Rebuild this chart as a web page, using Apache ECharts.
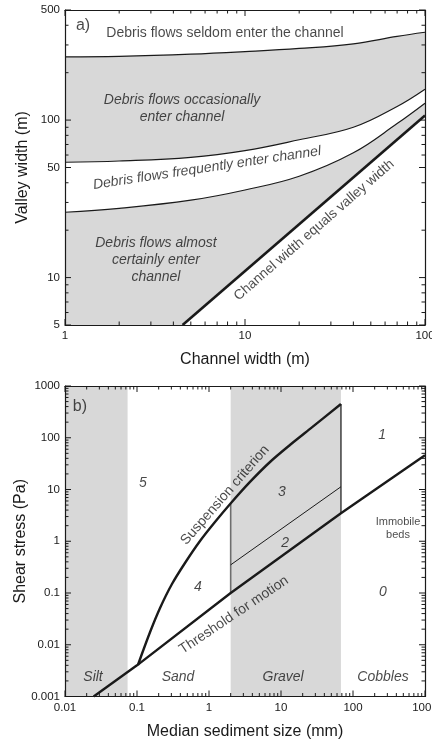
<!DOCTYPE html>
<html><head><meta charset="utf-8">
<script src="https://cdn.jsdelivr.net/npm/echarts@6/dist/echarts.min.js"></script>
<style>html,body{margin:0;padding:0;background:#fff}#c{width:432px;height:740px}</style>
</head><body><div id="c"></div>
<script>
// ---------- Panel a data ----------
const aX = [1, 2, 5, 10, 20, 40, 70, 100];
const aSeldomY = [252, 254, 262, 272, 285, 305, 340, 361];
const aOccasionalY = [54, 55, 58, 64, 75, 90, 122, 157];
const aFrequentY = [26, 27.5, 31, 36, 44, 62, 95, 128];
const aEqualX = [4.5, 100];
const aEqualY = [5, 107];
const aXTicks = [1, 10, 100];
const aXTickLabels = ['1', '10', '100'];
const aYTicks = [5, 10, 50, 100, 500];
const aYTickLabels = ['5', '10', '50', '100', '500'];

// ---------- Panel b data ----------
const bThresholdX = [0.025, 0.1, 2, 68, 1000];
const bThresholdY = [0.001, 0.004, 0.1, 3.47, 46];
const bSuspensionX = [0.103, 0.152, 0.209, 0.306, 0.464, 0.75, 1.21, 2.02, 3.71, 7.03, 13.3, 25.3, 68];
const bSuspensionY = [0.00406, 0.0176, 0.0513, 0.149, 0.38, 1.01, 2.35, 5.48, 14, 34, 72.4, 148, 450];
const bSplitX = [2, 68];
const bSplitY = [0.35, 11.3];
const bBoundaryX = [2, 68];
const bBoundaryLow = [0.1, 3.47];
const bBoundaryHigh = [5.45, 450];
const bSiltBand = [0.01, 0.074];
const bGravelBand = [2, 68];
const bXTicks = [0.01, 0.1, 1, 10, 100, 1000];
const bXTickLabels = ['0.01', '0.1', '1', '10', '100', '1000'];
const bYTicks = [0.001, 0.01, 0.1, 1, 10, 100, 1000];
const bYTickLabels = ['0.001', '0.01', '0.1', '1', '10', '100', '1000'];

// ---------- Annotations (data coordinates) ----------
const aNotes = [
  ['a)', 1.26, 400],
  ['Debris flows seldom enter the channel', 7.74, 357],
  ['Debris flows occasionally\nenter channel', 4.47, 118],
  ['Debris flows frequently enter channel', 6.15, 49.6],
  ['Debris flows almost\ncertainly enter\nchannel', 3.2, 12.9],
  ['Channel width equals valley width', 24.2, 20]
];
const bNotes = [
  ['b)', 0.0161, 393],
  ['5', 0.121, 13.4],
  ['1', 253, 113],
  ['3', 10.3, 8.95],
  ['2', 11.4, 0.925],
  ['4', 0.703, 0.13],
  ['0', 261, 0.104],
  ['Immobile\nbeds', 422, 1.8],
  ['Silt', 0.0245, 0.00238],
  ['Sand', 0.371, 0.00238],
  ['Gravel', 10.7, 0.00238],
  ['Cobbles', 261, 0.00238],
  ['Suspension criterion', 1.67, 7.8],
  ['Threshold for motion', 2.22, 0.0376]
];

const FONT = "'Liberation Sans', Arial, sans-serif";
const INK = '#1a1a1a';
const GRAY = '#d8d8d8';
const RANGES = [{ x: [1, 100], y: [5, 500] }, { x: [0.01, 1000], y: [0.001, 1000] }];

function minorsFor(lo, hi, majors) {
  const out = [];
  for (let e = -4; e <= 3; e++) {
    for (let m = 2; m <= 9; m++) {
      const v = +(m * Math.pow(10, e)).toPrecision(6);
      if (v > lo * 1.0001 && v < hi * 0.9999 && majors.every(k => Math.abs(Math.log10(k) - Math.log10(v)) > 1e-6)) out.push(v);
    }
  }
  return out;
}
function labelLookup(vals, labs) {
  return function (v) {
    for (let i = 0; i < vals.length; i++) {
      if (Math.abs(Math.log10(vals[i]) - Math.log10(v)) < 1e-6) return labs[i];
    }
    return '';
  };
}
function axisPair(dim, gridIndex, min, max, majors, labels, name, nameGap) {
  const pos = dim === 'x' ? ['bottom', 'top'] : ['left', 'right'];
  const base = {
    type: 'log', gridIndex, min, max, z: 10, splitLine: { show: false }, axisTick: { show: false },
    axisLine: { show: true, lineStyle: { color: INK, width: 1.2 } }
  };
  const main = Object.assign({}, base, {
    position: pos[0],
    axisLabel: {
      show: true, customValues: majors, formatter: labelLookup(majors, labels),
      color: INK, fontSize: 11.5, fontFamily: FONT, margin: 5, showMinLabel: true, showMaxLabel: true
    },
    name, nameLocation: 'middle', nameGap, nameMoveOverlap: false,
    nameTextStyle: { color: INK, fontSize: 16, fontFamily: FONT }
  });
  if (dim === 'y') main.nameRotate = 90;
  const opp = Object.assign({}, base, { position: pos[1], axisLabel: { show: false } });
  return [main, opp];
}

const xAxes = [].concat(
  axisPair('x', 0, RANGES[0].x[0], RANGES[0].x[1], aXTicks, aXTickLabels, 'Channel width (m)', 27),
  axisPair('x', 1, RANGES[1].x[0], RANGES[1].x[1], bXTicks, bXTickLabels, 'Median sediment size (mm)', 27)
);
const yAxes = [].concat(
  axisPair('y', 0, RANGES[0].y[0], RANGES[0].y[1], aYTicks, aYTickLabels, 'Valley width (m)', 34),
  axisPair('y', 1, RANGES[1].y[0], RANGES[1].y[1], bYTicks, bYTickLabels, 'Shear stress (Pa)', 36)
);

const zip = (xs, ys) => xs.map((x, i) => [x, ys[i]]);
function lineSeries(ax, data, opt) {
  return Object.assign({
    type: 'line', xAxisIndex: ax ? 2 : 0, yAxisIndex: ax ? 2 : 0,
    data, showSymbol: false, symbol: 'none', animation: false, silent: true,
    lineStyle: { color: INK, width: 1.2 }
  }, opt);
}
function area(color) { return { color, opacity: 1, origin: 'start' }; }

// Tick marks drawn inward on all four sides, positioned by the axes' own scales
function tickSeries(ax, xMajors, yMajors) {
  const r = RANGES[ax];
  const items = [];
  const addX = (vals, len) => vals.forEach(v => { items.push([v, r.y[0], 0, len]); items.push([v, r.y[1], 1, len]); });
  const addY = (vals, len) => vals.forEach(v => { items.push([r.x[0], v, 2, len]); items.push([r.x[1], v, 3, len]); });
  addX(xMajors, 6); addX(minorsFor(r.x[0], r.x[1], xMajors), 3.5);
  addY(yMajors, 6); addY(minorsFor(r.y[0], r.y[1], yMajors), 3.5);
  const dirs = [[0, -1], [0, 1], [1, 0], [-1, 0]];
  return {
    type: 'custom', xAxisIndex: ax ? 2 : 0, yAxisIndex: ax ? 2 : 0, z: 15, silent: true, animation: false, clip: false,
    data: items,
    renderItem: (params, api) => {
      const p = api.coord([api.value(0), api.value(1)]);
      const d = dirs[api.value(2)];
      const len = api.value(3);
      return { type: 'line', shape: { x1: p[0], y1: p[1], x2: p[0] + d[0] * len, y2: p[1] + d[1] * len }, style: { stroke: INK, lineWidth: 1 } };
    }
  };
}

function noteSeries(ax, notes, styler) {
  return {
    type: 'scatter', xAxisIndex: ax ? 2 : 0, yAxisIndex: ax ? 2 : 0,
    symbolSize: 1, itemStyle: { color: 'rgba(0,0,0,0)' }, animation: false, silent: true, z: 20,
    data: notes.map(n => ({ value: [n[1], n[2]], name: n[0], label: styler(n[0]) })),
    label: { show: true, position: 'inside', formatter: p => p.name, color: INK, fontFamily: FONT }
  };
}
function aStyle(t) {
  const s = { show: true, position: 'inside', fontSize: 14, fontStyle: 'italic', lineHeight: 17 };
  if (t === 'a)') { s.fontStyle = 'normal'; s.fontSize = 16; }
  if (t.indexOf('seldom') >= 0) { s.fontStyle = 'normal'; }
  if (t.indexOf('frequently') >= 0) { s.rotate = 8.5; }
  if (t.indexOf('equals') >= 0) { s.rotate = 41; s.fontStyle = 'normal'; s.fontSize = 13.8; }
  return s;
}
function bStyle(t) {
  const s = { show: true, position: 'inside', fontSize: 14, fontStyle: 'italic', lineHeight: 13 };
  if (t === 'b)') { s.fontStyle = 'normal'; s.fontSize = 16; }
  if (t.indexOf('Immobile') === 0) { s.fontStyle = 'normal'; s.fontSize = 11; }
  if (t.indexOf('Suspension') === 0) { s.fontStyle = 'normal'; s.rotate = 49; }
  if (t.indexOf('Threshold') === 0) { s.fontStyle = 'normal'; s.rotate = 34; }
  return s;
}

const series = [
  lineSeries(0, zip(aX, aSeldomY), { areaStyle: area(GRAY), smooth: 0.4, z: 2 }),
  lineSeries(0, zip(aX, aOccasionalY), { areaStyle: area('#ffffff'), smooth: 0.4, z: 3 }),
  lineSeries(0, zip(aX, aFrequentY), { areaStyle: area(GRAY), smooth: 0.4, z: 4 }),
  lineSeries(0, zip(aEqualX, aEqualY), { areaStyle: area('#ffffff'), lineStyle: { color: INK, width: 2.6 }, z: 5 }),
  tickSeries(0, aXTicks, aYTicks),
  noteSeries(0, aNotes, aStyle),
  lineSeries(1, zip(bThresholdX, bThresholdY), {
    lineStyle: { color: INK, width: 2.4 }, z: 6,
    markArea: {
      silent: true, itemStyle: { color: GRAY, opacity: 1 },
      data: [[{ xAxis: bSiltBand[0] }, { xAxis: bSiltBand[1] }], [{ xAxis: bGravelBand[0] }, { xAxis: bGravelBand[1] }]]
    }
  }),
  lineSeries(1, [[bBoundaryX[0], bBoundaryLow[0]], [bBoundaryX[0], bBoundaryHigh[0]]], { lineStyle: { color: '#6e6e6e', width: 1.6 }, z: 4 }),
  lineSeries(1, [[bBoundaryX[1], bBoundaryLow[1]], [bBoundaryX[1], bBoundaryHigh[1]]], { lineStyle: { color: '#4a4a4a', width: 1.6 }, z: 4 }),
  lineSeries(1, zip(bSplitX, bSplitY), { lineStyle: { color: INK, width: 1 }, z: 5 }),
  lineSeries(1, zip(bSuspensionX, bSuspensionY), { lineStyle: { color: INK, width: 2.4 }, smooth: 0.3, z: 6 }),
  tickSeries(1, bXTicks, bYTicks),
  noteSeries(1, bNotes, bStyle)
];

const chart = echarts.init(document.getElementById('c'), null, { renderer: 'canvas' });
chart.setOption({
  backgroundColor: '#ffffff',
  animation: false,
  grid: [
    { left: 65, top: 10, width: 360, height: 315, outerBoundsMode: 'none' },
    { left: 65, top: 386, width: 360, height: 310.5, outerBoundsMode: 'none' }
  ],
  xAxis: xAxes,
  yAxis: yAxes,
  series
});
</script></body></html>
